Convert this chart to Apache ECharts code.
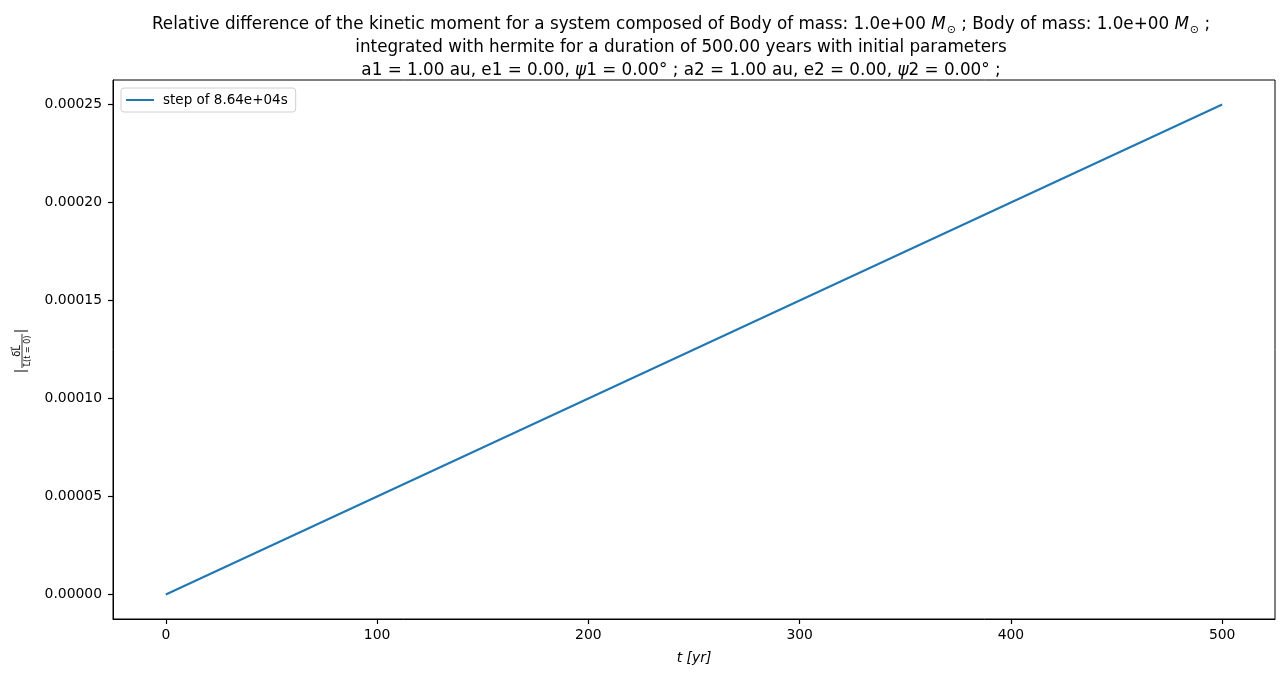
<!DOCTYPE html>
<html>
<head>
<meta charset="utf-8">
<script src="https://cdn.jsdelivr.net/npm/echarts@6/dist/echarts.min.js"></script>
<style>html,body{margin:0;padding:0;background:#fff}#c{width:1285px;height:676px}</style>
</head>
<body>
<div id="c"></div>
<script>
// Data
const timeYears = [0, 50, 100, 150, 200, 250, 300, 350, 400, 450, 500];
const relDiff = [0, 0.00002497, 0.00004994, 0.00007491, 0.00009988, 0.00012485, 0.00014982, 0.00017479, 0.00019976, 0.00022473, 0.0002497];
const xTicks = [0, 100, 200, 300, 400, 500];
const yTicks = [0, 0.00005, 0.0001, 0.00015, 0.0002, 0.00025];
const seriesName = 'step of 8.64e+04s';

const chart = echarts.init(document.getElementById('c'), null, {renderer: 'canvas'});
const FONT = 'DejaVu Sans';
const TF = 16.8;
const titleRich = {
  i: {fontStyle: 'italic', fontFamily: FONT, fontSize: TF, color: '#000'},
  s: {fontFamily: FONT, fontSize: 11, color: '#000', verticalAlign: 'bottom', padding: [8, 0, 0, 1]}
};
const titleText =
  'Relative difference of the kinetic moment for a system composed of Body of mass: 1.0e+00 {i|M}{s|⊙} ; Body of mass: 1.0e+00 {i|M}{s|⊙} ;\n' +
  'integrated with hermite for a duration of 500.00 years with initial parameters\n' +
  'a1 = 1.00 au, e1 = 0.00, {i|ψ}1 = 0.00° ; a2 = 1.00 au, e2 = 0.00, {i|ψ}2 = 0.00° ;';

chart.setOption({
  animation: false,
  backgroundColor: '#fff',
  textStyle: {fontFamily: FONT},
  title: {
    text: titleText,
    left: 676, top: 8, textAlign: 'center',
    textStyle: {fontFamily: FONT, fontSize: TF, fontWeight: 'normal', color: '#000', lineHeight: 23, rich: titleRich}
  },
  legend: {
    left: 121, top: 88,
    data: [seriesName],
    icon: 'rect', itemWidth: 28, itemHeight: 2, itemGap: 8,
    padding: [5, 8, 5, 5],
    borderColor: '#d0d0d0', borderWidth: 1, borderRadius: 3,
    textStyle: {fontFamily: FONT, fontSize: 13.5, color: '#000', padding: [0, 0, 0, 4]}
  },
  grid: {left: 113, right: 10, top: 80, bottom: 57, show: true, borderColor: '#000', borderWidth: 1, containLabel: false},
  xAxis: {
    type: 'value', min: -25, max: 525,
    name: 't [yr]', nameLocation: 'middle', nameGap: 32,
    nameTextStyle: {fontFamily: FONT, fontStyle: 'italic', fontSize: 13.9, color: '#000'},
    axisLine: {show: true, onZero: false, lineStyle: {color: '#000', width: 1}},
    axisTick: {show: true, inside: false, length: 5, lineStyle: {color: '#000', width: 1.2}, customValues: xTicks},
    axisLabel: {color: '#000', fontFamily: FONT, fontSize: 13.9, margin: 9, customValues: xTicks},
    splitLine: {show: false}
  },
  yAxis: {
    type: 'value', min: -0.0000125, max: 0.0002622,
    axisLine: {show: true, onZero: false, lineStyle: {color: '#000', width: 1}},
    axisTick: {show: true, inside: false, length: 5, lineStyle: {color: '#000', width: 1.2}, customValues: yTicks},
    axisLabel: {color: '#000', fontFamily: FONT, fontSize: 13.9, margin: 11, customValues: yTicks,
      formatter: v => v.toFixed(5)},
    splitLine: {show: false}
  },
  series: [{
    name: seriesName, type: 'line',
    data: timeYears.map((t, i) => [t, relDiff[i]]),
    showSymbol: false, symbol: 'none',
    lineStyle: {color: '#1f77b4', width: 2},
    itemStyle: {color: '#1f77b4'}
  }],
  graphic: [{
    type: 'group', x: 22, y: 351, rotation: Math.PI / 2,
    children: [
      {type: 'text', x: 0, y: -5, style: {text: 'δL⃗', fontFamily: FONT, fontSize: 10, fill: '#000', align: 'center', verticalAlign: 'middle'}},
      {type: 'line', shape: {x1: -17, y1: 0, x2: 17, y2: 0}, style: {stroke: '#000', lineWidth: 0.8}},
      {type: 'text', x: 0, y: 6, style: {text: 'L⃗(t = 0)', fontFamily: FONT, fontSize: 8, fill: '#000', align: 'center', verticalAlign: 'middle'}},
      {type: 'line', shape: {x1: -20, y1: -8, x2: -20, y2: 6}, style: {stroke: '#000', lineWidth: 1}},
      {type: 'line', shape: {x1: 20, y1: -8, x2: 20, y2: 6}, style: {stroke: '#000', lineWidth: 1}}
    ]
  }]
});
</script>
</body>
</html>
